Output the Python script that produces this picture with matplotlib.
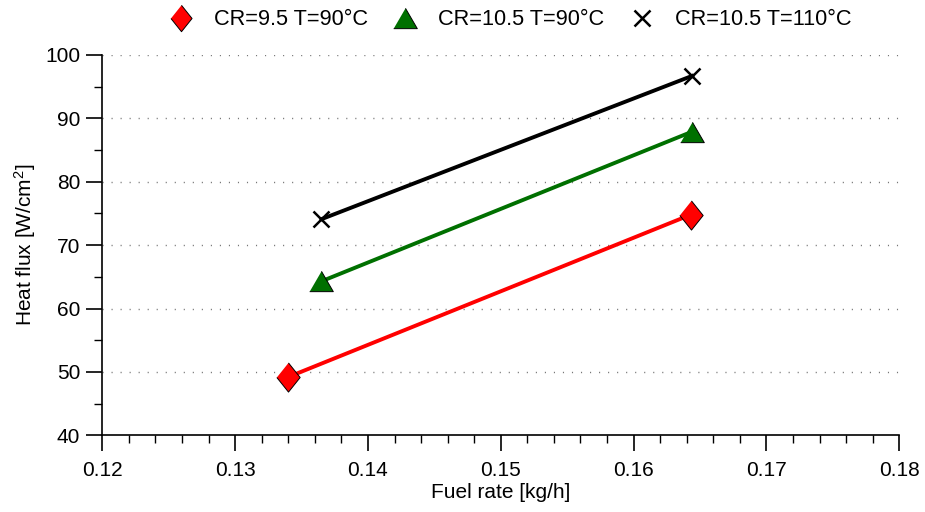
import matplotlib.pyplot as plt
from matplotlib.lines import Line2D
from matplotlib.ticker import MultipleLocator

# Fuel rate [kg/h] and heat flux [W/cm2]
fuel_cr95 = [0.1340, 0.1643]
flux_cr95 = [49.2, 74.8]
fuel_cr105_90 = [0.1365, 0.1644]
flux_cr105_90 = [64.3, 87.9]
fuel_cr105_110 = [0.1365, 0.1644]
flux_cr105_110 = [74.1, 96.7]

labels = ['CR=9.5 T=90°C', 'CR=10.5 T=90°C', 'CR=10.5 T=110°C']
green = '#007000'

# marker shapes a bit different from the stock ones
diamond = [(0, 1), (0.8, 0), (0, -1), (-0.8, 0)]
triangle = [(0, 0.86), (1, -0.86), (-1, -0.86)]

plt.rcParams['font.family'] = ['Liberation Sans', 'DejaVu Sans']
plt.rcParams['mathtext.default'] = 'regular'

fig = plt.figure(figsize=(9.25, 5.12), dpi=100)
ax = fig.add_axes([0.1106, 0.1498, 0.8616, 0.7428])

ax.plot(fuel_cr95, flux_cr95, color='red', lw=2.8, marker=diamond, ms=21,
        mfc='red', mec='black', mew=0.7, zorder=3)
ax.plot(fuel_cr105_90, flux_cr105_90, color=green, lw=2.8, marker=triangle, ms=17,
        mfc=green, mec='black', mew=0.7, zorder=3)
ax.plot(fuel_cr105_110, flux_cr105_110, color='black', lw=2.8, marker='x', ms=11.5,
        mew=1.8, zorder=3)

ax.set_xlim(0.12, 0.18)
ax.set_ylim(40, 100)
ax.xaxis.set_major_locator(MultipleLocator(0.01))
ax.xaxis.set_minor_locator(MultipleLocator(0.002))
ax.yaxis.set_major_locator(MultipleLocator(10))
ax.yaxis.set_minor_locator(MultipleLocator(5))
ax.xaxis.set_major_formatter(plt.FuncFormatter(lambda x, loc: f'{x:.2f}'))

ax.spines['top'].set_visible(False)
ax.spines['right'].set_visible(False)
for s in ('left', 'bottom'):
    ax.spines[s].set_linewidth(1.2)

ax.tick_params(axis='both', which='major', length=11.5, width=1.2, labelsize=15)
ax.tick_params(axis='both', which='minor', length=5.8, width=1)
ax.tick_params(axis='y', which='major', pad=4.5)
ax.tick_params(axis='x', which='major', pad=7)

for yv in range(50, 101, 10):
    ax.axhline(yv, color='#777777', lw=1, ls=(0, (0.8, 5.7)), zorder=1)

ax.set_xlabel('Fuel rate [kg/h]', fontsize=15, labelpad=2)
ax.set_ylabel('Heat flux [W/cm$^{2}$]', fontsize=15, labelpad=5)

handles = [
    Line2D([], [], ls='none', marker=diamond, ms=19, mfc='red', mec='black', mew=0.7),
    Line2D([], [], ls='none', marker=triangle, ms=17, mfc=green, mec='black', mew=0.7),
    Line2D([], [], ls='none', marker='x', ms=12, mec='black', mew=1.8),
]
fig.legend(handles, labels, frameon=False, loc='center', ncol=3, fontsize=15.7,
           columnspacing=1.1, handlelength=1.2, handletextpad=0.92,
           bbox_to_anchor=(0.551, 0.961))

plt.savefig('out.png', dpi=100)
